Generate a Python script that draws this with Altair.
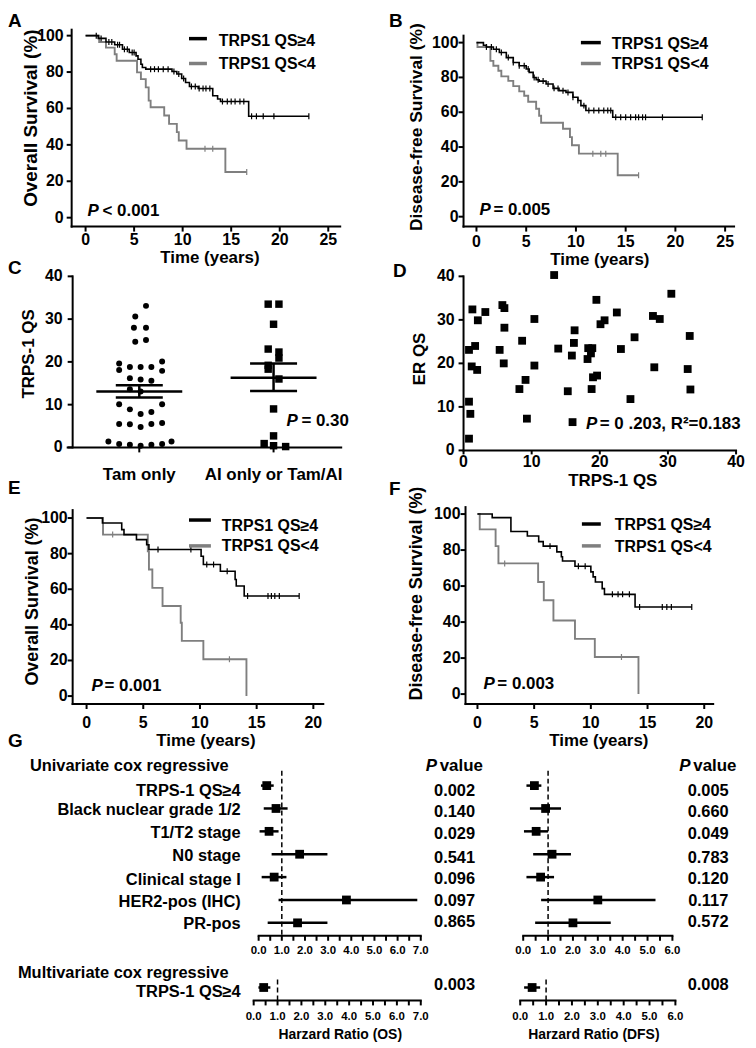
import altair as alt
import pandas as pd

FONT = "Liberation Sans"
W, H = 744, 1036
M = 8
BLACK = "#000000"
GREY = "#7f7f7f"

# ======================= DATA =======================
# A: overall survival (all patients)
a_hi_t = [0, 1.3, 2.1, 3.0, 3.8, 4.5, 5.2, 5.4, 5.7, 5.85, 6.2, 8.9, 9.4, 9.9, 10.3, 10.7, 11.6, 13.1, 13.6, 13.9, 16.8, 23.0]
a_hi_s = [100, 98.5, 96.5, 95.0, 92.5, 90.7, 88.9, 87.0, 84.3, 82.5, 81.6, 80.3, 78.9, 76.5, 74.3, 72.1, 71.0, 67.0, 65.2, 63.8, 55.7, 55.7]
a_hi_cens = [1.1, 1.6, 2.4, 2.7, 3.3, 3.5, 4.0, 4.3, 4.8, 5.0, 6.7, 7.1, 7.5, 8.0, 8.5, 9.1, 9.6, 10.1, 10.9,
             11.3, 11.7, 12.1, 12.4, 12.8, 14.1, 14.6, 15.0, 15.4, 15.9, 16.3, 17.1, 17.6, 18.3, 19.4, 23.0]
a_lo_t = [0, 1.4, 2.1, 3.0, 3.2, 5.3, 5.7, 6.2, 6.5, 6.7, 8.1, 8.6, 9.4, 9.6, 10.4, 14.4, 16.6]
a_lo_s = [100, 96.5, 93.4, 89.8, 86.2, 79.8, 76.1, 71.6, 64.3, 60.7, 56.1, 51.5, 47.0, 42.4, 37.9, 25.1, 25.1]
a_lo_cens = [12.3, 13.1, 16.6]

# B: disease-free survival (all patients)
b_hi_t = [0, 0.7, 1.0, 1.7, 2.3, 3.0, 3.7, 4.3, 5.0, 5.3, 5.7, 6.0, 6.3, 7.0, 7.7, 8.3, 9.0, 9.7, 10.2, 10.5, 11.0, 13.7, 22.7]
b_hi_s = [100, 98.5, 97.5, 96.2, 94.3, 91.4, 88.6, 86.7, 84.8, 82.9, 80.0, 78.7, 77.9, 76.2, 73.7, 72.4, 71.4, 68.6, 66.7, 63.8, 61.0, 57.1, 57.1]
b_hi_cens = [1.0, 1.5, 2.0, 2.5, 3.2, 3.7, 4.3, 4.8, 5.2, 5.8, 6.2, 6.7, 7.2, 7.8, 8.2, 8.7, 9.2, 9.7, 10.2, 10.8,
             11.3, 11.8, 12.3, 12.8, 13.2, 13.5, 14.0, 14.5, 15.0, 15.5, 16.0, 16.3, 16.7, 17.0, 18.7, 22.7]
b_lo_t = [0, 0.1, 1.4, 1.7, 2.2, 2.5, 3.2, 3.7, 4.3, 4.8, 5.2, 6.0, 6.3, 6.5, 8.7, 9.4, 9.6, 10.3, 14.2, 16.3]
b_lo_s = [100, 97.5, 89.5, 86.7, 83.8, 80.6, 78.0, 75.0, 72.0, 69.5, 66.0, 62.0, 58.0, 54.0, 50.5, 45.7, 41.0, 36.2, 23.8, 23.8]
b_lo_cens = [11.7, 12.5, 13.0, 16.3]

# C: TRPS-1 QS by endocrine therapy
tam_qs = [33.1, 30.6, 28.0, 28.0, 24.7, 25.1, 19.6, 20.1, 18.8, 18.8, 18.8, 18.1, 17.9, 16.2, 15.9, 15.6, 13.6, 13.1,
          10.1, 10.1, 8.9, 7.8, 8.3, 5.5, 5.4, 4.8, 5.5, 5.7, 1.4, 0.8, 0.6, 0.4, 0.6, 0.8, 1.4]
tam_jit = [0.05, -0.03, -0.04, 0.05, -0.03, 0.05, -0.15, 0.17, -0.07, 0.01, 0.09, -0.15, 0.17, -0.07, 0.01, 0.09, -0.07, 0.01,
           -0.15, 0.17, -0.07, 0.01, 0.09, -0.15, -0.07, 0.01, 0.09, 0.17, -0.23, -0.15, -0.07, 0.01, 0.09, 0.17, 0.24]
ai_qs = [33.5, 33.5, 28.8, 23.0, 22.3, 20.9, 19.2, 18.3, 16.0, 9.0, 2.7, 0.9, 0.4, 0.2]
ai_jit = [-0.04, 0.04, 0.0, -0.04, 0.04, 0.04, -0.04, -0.04, 0.04, 0.0, 0.0, -0.07, 0.0, 0.09]
c_groups = ["Tam only", "AI only or Tam/AI"]
c_mean = [13.1, 16.3]
c_sem_lo = [11.7, 13.2]
c_sem_hi = [14.55, 19.6]

# D: ER QS vs TRPS-1 QS
d_x = [13.3, 30.5, 1.3, 3.2, 5.7, 6.0, 2.1, 10.4, 6.0, 8.6, 0.8, 1.7, 5.3, 13.9, 16.3, 16.2, 15.9, 18.3, 18.9, 18.2,
       18.7, 19.5, 20.1, 20.7, 22.5, 23.1, 25.1, 27.8, 28.8, 33.2, 28.0, 32.9, 33.3, 24.5, 19.6, 19.0, 18.8, 15.3,
       10.4, 9.1, 8.2, 5.9, 1.2, 2.0, 0.8, 1.0, 9.3, 16.0, 0.8]
d_y = [40.3, 36.0, 32.4, 31.8, 33.4, 32.7, 29.9, 30.2, 28.2, 25.2, 23.1, 24.0, 23.1, 23.4, 27.6, 24.7, 21.8, 23.5, 23.5, 21.0,
       22.3, 34.6, 29.0, 29.9, 31.7, 23.3, 26.0, 30.9, 30.2, 26.3, 19.1, 18.7, 14.0, 11.8, 17.2, 16.8, 14.1, 13.6,
       19.5, 16.2, 14.1, 20.0, 19.3, 18.5, 11.2, 8.4, 7.3, 6.5, 2.7]

# E: overall survival (endocrine subset)
e_hi_t = [0, 1.4, 3.1, 3.3, 4.4, 5.3, 5.5, 10.1, 10.3, 11.8, 13.1, 13.2, 13.9, 18.75]
e_hi_s = [100, 97.2, 93.5, 90.7, 87.9, 85.0, 82.3, 78.5, 73.9, 70.1, 65.5, 61.8, 56.2, 56.2]
e_hi_cens = [6.3, 9.2, 10.6, 11.2, 12.4, 14.2, 16.0, 16.3, 16.6, 17.0, 18.75]
e_lo_t = [0, 1.45, 5.4, 5.5, 5.8, 6.7, 8.3, 8.4, 10.3, 14.1]
e_lo_s = [100, 90.7, 81.3, 71.1, 60.8, 50.6, 41.2, 31.0, 20.7, 0]
e_lo_cens = [2.3, 12.6]

# F: disease-free survival (endocrine subset)
f_hi_t = [0, 1.3, 2.95, 4.4, 5.4, 5.8, 7.0, 7.4, 7.5, 8.6, 10.0, 10.2, 10.4, 11.0, 11.2, 13.9, 18.9]
f_hi_s = [100, 98.0, 90.3, 87.8, 84.7, 82.2, 79.0, 76.3, 73.9, 71.0, 67.9, 65.1, 62.3, 58.6, 55.4, 48.4, 48.4]
f_hi_cens = [6.4, 8.9, 9.5, 11.9, 12.4, 12.8, 13.4, 14.3, 16.3, 16.7, 17.1, 18.9]
f_lo_t = [0, 0.2, 1.6, 1.85, 5.35, 5.85, 6.7, 8.6, 10.35, 14.2]
f_lo_s = [100, 91.5, 82.2, 72.6, 62.3, 52.1, 40.9, 30.7, 20.6, 0]
f_lo_cens = [2.4, 12.7]

# G: Cox regression
g_rows = ["TRPS-1 QS≥4", "Black nuclear grade 1/2", "T1/T2 stage", "N0 stage",
          "Clinical stage I", "HER2-pos (IHC)", "PR-pos"]
os_hr = [0.35, 0.75, 0.45, 1.77, 0.67, 3.79, 1.68]
os_lo = [0.10, 0.22, 0.04, 0.56, 0.13, 0.86, 0.39]
os_hi = [0.65, 1.25, 0.86, 2.97, 1.20, 6.85, 2.97]
os_p = ["0.002", "0.140", "0.029", "0.541", "0.096", "0.097", "0.865"]
dfs_hr = [0.45, 0.90, 0.52, 1.16, 0.70, 3.00, 2.00]
dfs_lo = [0.13, 0.27, 0.03, 0.40, 0.13, 0.72, 0.48]
dfs_hi = [0.73, 1.52, 1.00, 1.92, 1.24, 5.32, 3.52]
dfs_p = ["0.005", "0.660", "0.049", "0.783", "0.120", "0.117", "0.572"]
multi_label = "TRPS-1 QS≥4"
multi_os = [0.42, 0.20, 0.70]
multi_os_p = "0.003"
multi_dfs = [0.46, 0.15, 0.77]
multi_dfs_p = "0.008"

km_years_ab = [0, 5, 10, 15, 20, 25]
km_years_ef = [0, 5, 10, 15, 20]
km_pct = [0, 20, 40, 60, 80, 100]
qs_ticks = [0, 10, 20, 30, 40]
os_ticks = [i * 0.5 for i in range(15)]
dfs_ticks = [i * 0.5 for i in range(13)]

# ======================= HELPERS =======================
def lin(d0, p0, d1, p1, e0, e1):
    k = (p1 - p0) / (d1 - d0)
    return alt.Scale(domain=[d0 + (e0 - p0) / k, d0 + (e1 - p0) / k],
                     range=[e0 - M, e1 - M], nice=False, zero=False)


ONE = pd.DataFrame({"d": [0]})


def hline(x0, x1, y, w=2):
    return alt.Chart(ONE).mark_rule(color=BLACK, strokeWidth=w, strokeCap="square").encode(
        x=alt.value(x0 - M), x2=alt.value(x1 - M), y=alt.value(y - M))


def vline(x, y0, y1, w=2):
    return alt.Chart(ONE).mark_rule(color=BLACK, strokeWidth=w, strokeCap="square").encode(
        x=alt.value(x - M), y=alt.value(y0 - M), y2=alt.value(y1 - M))


def x_axis(xs, y, x0, x1, values, labels, size=16, pad=2, tick=5, show=None):
    df = pd.DataFrame({"v": values, "lab": labels})
    lab_df = df if show is None else df[[bool(s) for s in show]]
    return [
        hline(x0, x1, y),
        alt.Chart(df).mark_rule(color=BLACK, strokeWidth=2).encode(
            x=alt.X("v:Q", scale=xs, axis=None), y=alt.value(y - M), y2=alt.value(y - M + tick)),
        alt.Chart(lab_df).mark_text(align="center", baseline="top", font=FONT, fontWeight="bold",
                                    fontSize=size, color=BLACK).encode(
            x=alt.X("v:Q", scale=xs, axis=None), y=alt.value(y - M + tick + pad), text="lab:N"),
    ]


def y_axis(ys, x, y0, y1, values, labels, size=16, pad=2, tick=5):
    df = pd.DataFrame({"v": values, "lab": labels})
    return [
        vline(x, y0, y1),
        alt.Chart(df).mark_rule(color=BLACK, strokeWidth=2).encode(
            y=alt.Y("v:Q", scale=ys, axis=None), x=alt.value(x - M - tick), x2=alt.value(x - M)),
        alt.Chart(df).mark_text(align="right", baseline="middle", font=FONT, fontWeight="bold",
                                fontSize=size, color=BLACK).encode(
            y=alt.Y("v:Q", scale=ys, axis=None), x=alt.value(x - M - tick - pad), text="lab:N"),
    ]


def surv_at(ts, ss, t):
    v = ss[0]
    for ti, si in zip(ts, ss):
        if ti <= t:
            v = si
    return v


def km_panel(hi_t, hi_s, hi_c, lo_t, lo_s, lo_c, xs, ys, axes):
    hi = pd.DataFrame({"t": hi_t, "s": hi_s})
    lo = pd.DataFrame({"t": lo_t, "s": lo_s})
    hc = pd.DataFrame({"t": hi_c, "s": [surv_at(hi_t, hi_s, c) for c in hi_c]})
    lc = pd.DataFrame({"t": lo_c, "s": [surv_at(lo_t, lo_s, c) for c in lo_c]})
    enc = dict(x=alt.X("t:Q", scale=xs, axis=None), y=alt.Y("s:Q", scale=ys, axis=None))
    l_lo = alt.Chart(lo).mark_line(interpolate="step-after", color=GREY, strokeWidth=1.9).encode(**enc)
    l_hi = alt.Chart(hi).mark_line(interpolate="step-after", color=BLACK, strokeWidth=1.6).encode(**enc)
    t_lo = alt.Chart(lc).mark_tick(orient="vertical", size=6, thickness=1.2, color=GREY, opacity=1).encode(**enc)
    t_hi = alt.Chart(hc).mark_tick(orient="vertical", size=6, thickness=1.2, color=BLACK, opacity=1).encode(**enc)
    return alt.layer(l_lo, l_hi, t_lo, t_hi, *axes)


def fmt_int(vals):
    return [str(int(v)) for v in vals]


# ---------------- A, B, E, F ----------------
xsA, ysA = lin(0, 86, 25, 330, 72, 342), lin(0, 216, 100, 33, 225, 27)
pA = km_panel(a_hi_t, a_hi_s, a_hi_cens, a_lo_t, a_lo_s, a_lo_cens, xsA, ysA,
              x_axis(xsA, 225, 72, 342, km_years_ab, fmt_int(km_years_ab), pad=0)
              + y_axis(ysA, 72, 225, 27, km_pct, fmt_int(km_pct), pad=3))
xsB, ysB = lin(0, 479, 25, 729, 466, 738), lin(0, 215, 100, 40, 225, 33)
pB = km_panel(b_hi_t, b_hi_s, b_hi_cens, b_lo_t, b_lo_s, b_lo_cens, xsB, ysB,
              x_axis(xsB, 225, 466, 738, km_years_ab, fmt_int(km_years_ab), pad=2)
              + y_axis(ysB, 466, 225, 33, km_pct, fmt_int(km_pct), pad=0))
xsE, ysE = lin(0, 87, 20, 315, 73, 325), lin(0, 697, 100, 518, 705, 510)
pE = km_panel(e_hi_t, e_hi_s, e_hi_cens, e_lo_t, e_lo_s, e_lo_cens, xsE, ysE,
              x_axis(xsE, 705, 73, 325, km_years_ef, fmt_int(km_years_ef), pad=6)
              + y_axis(ysE, 73, 705, 510, km_pct, fmt_int(km_pct), pad=0))
xsF, ysF = lin(0, 480, 20, 708, 468, 717), lin(0, 695, 100, 514, 705, 507)
pF = km_panel(f_hi_t, f_hi_s, f_hi_cens, f_lo_t, f_lo_s, f_lo_cens, xsF, ysF,
              x_axis(xsF, 705, 468, 717, km_years_ef, fmt_int(km_years_ef), pad=6)
              + y_axis(ysF, 468, 705, 507, km_pct, fmt_int(km_pct), pad=0))

# ---------------- C ----------------
cxs = lin(1, 140, 2, 275, 68, 343)
cys = lin(0, 447, 40, 275, 447, 275)
tam_df = pd.DataFrame({"x": [1 + j for j in tam_jit], "y": tam_qs})
ai_df = pd.DataFrame({"x": [2 + j for j in ai_jit], "y": ai_qs})
centers = [1, 2]
mean_df = pd.DataFrame({"x1": [c - 0.32 for c in centers], "x2": [c + 0.32 for c in centers], "y": c_mean})
sem_df = pd.DataFrame({"x1": [c - 0.175 for c in centers] * 2, "x2": [c + 0.175 for c in centers] * 2,
                       "y": c_sem_lo + c_sem_hi})
vert_df = pd.DataFrame({"x": centers, "y1": c_sem_lo, "y2": c_sem_hi})
pC = alt.layer(
    alt.Chart(tam_df).mark_circle(size=36, color=BLACK, opacity=1).encode(
        x=alt.X("x:Q", scale=cxs, axis=None), y=alt.Y("y:Q", scale=cys, axis=None)),
    alt.Chart(ai_df).mark_square(size=56, color=BLACK, opacity=1).encode(
        x=alt.X("x:Q", scale=cxs, axis=None), y=alt.Y("y:Q", scale=cys, axis=None)),
    alt.Chart(mean_df).mark_rule(color=BLACK, strokeWidth=2.5).encode(
        x=alt.X("x1:Q", scale=cxs, axis=None), x2="x2:Q", y=alt.Y("y:Q", scale=cys, axis=None)),
    alt.Chart(sem_df).mark_rule(color=BLACK, strokeWidth=2.5).encode(
        x=alt.X("x1:Q", scale=cxs, axis=None), x2="x2:Q", y=alt.Y("y:Q", scale=cys, axis=None)),
    alt.Chart(vert_df).mark_rule(color=BLACK, strokeWidth=2.5).encode(
        x=alt.X("x:Q", scale=cxs, axis=None), y=alt.Y("y1:Q", scale=cys, axis=None), y2="y2:Q"),
    *x_axis(cxs, 447, 68, 343, centers, c_groups, size=17, pad=15),
    *y_axis(cys, 73, 447, 275, qs_ticks, fmt_int(qs_ticks), pad=5),
)

# ---------------- D ----------------
dxs = lin(0, 466, 40, 740, 466, 740)
dys = lin(0, 450, 40, 275, 450, 275)
pD = alt.layer(
    alt.Chart(pd.DataFrame({"x": d_x, "y": d_y})).mark_square(size=62, color=BLACK, opacity=1).encode(
        x=alt.X("x:Q", scale=dxs, axis=None), y=alt.Y("y:Q", scale=dys, axis=None)),
    *x_axis(dxs, 450, 466, 740, qs_ticks, fmt_int(qs_ticks), pad=0, tick=4),
    *y_axis(dys, 466, 450, 275, qs_ticks, fmt_int(qs_ticks), pad=4),
)

# ---------------- G ----------------
rows_scale = lin(0, 787, 6, 925, 787, 925)


def forest_axis(xs, y, x0, x1, ticks, pad):
    labs = ["%.1f" % v for v in ticks]
    show = [abs(v - round(v)) < 1e-9 for v in ticks]
    return x_axis(xs, y, x0, x1, ticks, labs, size=11.5, pad=pad, tick=5, show=show)


def forest_upper(hr, lo, hi, xs, ticks, x0, x1):
    df = pd.DataFrame({"row": list(range(len(hr))), "hr": hr, "lo": lo, "hi": hi})
    ref = pd.DataFrame({"ref": [1.0]})
    return alt.layer(
        alt.Chart(ref).mark_rule(color=BLACK, strokeWidth=1.5, strokeDash=[5, 3]).encode(
            x=alt.X("ref:Q", scale=xs, axis=None), y=alt.value(772 - M), y2=alt.value(938 - M)),
        alt.Chart(df).mark_rule(color=BLACK, strokeWidth=2.5).encode(
            x=alt.X("lo:Q", scale=xs, axis=None), x2="hi:Q", y=alt.Y("row:Q", scale=rows_scale, axis=None)),
        alt.Chart(df).mark_square(size=78, color=BLACK, opacity=1).encode(
            x=alt.X("hr:Q", scale=xs, axis=None), y=alt.Y("row:Q", scale=rows_scale, axis=None)),
        *forest_axis(xs, 938, x0, x1, ticks, 4),
    )


def forest_lower(vals, xs, ticks, x0, x1):
    df = pd.DataFrame({"hr": [vals[0]], "lo": [vals[1]], "hi": [vals[2]]})
    ref = pd.DataFrame({"ref": [1.0]})
    return alt.layer(
        alt.Chart(ref).mark_rule(color=BLACK, strokeWidth=1.5, strokeDash=[5, 3]).encode(
            x=alt.X("ref:Q", scale=xs, axis=None), y=alt.value(982 - M), y2=alt.value(1003 - M)),
        alt.Chart(df).mark_rule(color=BLACK, strokeWidth=2.5).encode(
            x=alt.X("lo:Q", scale=xs, axis=None), x2="hi:Q", y=alt.value(990 - M)),
        alt.Chart(df).mark_square(size=78, color=BLACK, opacity=1).encode(
            x=alt.X("hr:Q", scale=xs, axis=None), y=alt.value(990 - M)),
        *forest_axis(xs, 1003, x0, x1, ticks, 6),
    )


pGLU = forest_upper(os_hr, os_lo, os_hi, lin(0, 260, 7, 423, 260, 423), os_ticks, 260, 423)
pGRU = forest_upper(dfs_hr, dfs_lo, dfs_hi, lin(0, 526, 6, 676, 526, 676), dfs_ticks, 526, 676)
pGLL = forest_lower(multi_os, lin(0, 255, 7, 423, 255, 423), os_ticks, 255, 423)
pGRL = forest_lower(multi_dfs, lin(0, 523, 6, 679, 523, 679), dfs_ticks, 523, 679)

# ======================= ANNOTATIONS (layout) =======================
ann = []


def T(x, y, s, size=16, align="left", angle=0, italic=False):
    ann.append({"x": x - M, "y": y - M, "text": s, "size": size, "align": align,
                "angle": angle, "italic": italic})


for letter, lx, ly in [("A", 8, 18), ("B", 391, 18), ("C", 8, 267), ("D", 395, 270),
                       ("E", 8, 488), ("F", 391, 489), ("G", 8, 742)]:
    T(lx, ly, letter, 19)

leg_hi, leg_lo = "TRPS1 QS≥4", "TRPS1 QS<4"
for tx, y1, y2 in [(220, 38, 62), (615, 41, 62), (223, 526, 546), (618, 525, 547)]:
    T(tx, y1, leg_hi, 16)
    T(tx, y2, leg_lo, 16)

T(31, 116, "Overall  Survival (%)", 19, "center", 270)
T(419, 125, "Disease-free  Survival (%)", 17.5, "center", 270)
T(29, 353, "TRPS-1 QS", 17, "center", 270)
T(422, 358, "ER  QS", 17, "center", 270)
T(33, 602, "Overall  Survival (%)", 18, "center", 270)
T(419, 594, "Disease-free  Survival (%)", 18, "center", 270)
T(211, 257, "Time (years)", 17, "center")
T(603, 259, "Time (years)", 17, "center")
T(616, 481, "TRPS-1 QS", 17, "center")
T(207, 742, "Time (years)", 17, "center")
T(602, 742, "Time (years)", 17, "center")

for px_, rx, yy, rest in [(88, 103, 209, "<  0.001"), (482, 496, 208, "= 0.005"), (288, 303, 420, "= 0.30"),
                          (589, 603, 423, "= 0 .203, R²=0.183"), (92, 105, 687, "=  0.001"),
                          (486, 500, 685, "=  0.003")]:
    T(px_, yy, "P", 17, italic=True)
    T(rx, yy, rest, 17)

T(30, 767, "Univariate cox regressive", 16.5)
T(18, 975, "Multivariate cox regressive", 16.5)
row_text_y = [792, 812, 835, 858, 882, 904, 926]
pval_y = [792, 814, 836, 860, 881, 903, 924]
for lab, yy in zip(g_rows, row_text_y):
    T(242, yy, lab, 16.5, "right")
T(242, 995, multi_label, 16.5, "right")
T(428, 767, "P", 17, italic=True)
T(442, 767, "value", 17)
T(683, 767, "P", 17, italic=True)
T(697, 767, "value", 17)
for a, b, yy in zip(os_p, dfs_p, pval_y):
    T(457, yy, a, 16.5, "center")
    T(712, yy, b, 16.5, "center")
T(457, 988, multi_os_p, 16.5, "center")
T(712, 988, multi_dfs_p, 16.5, "center")
T(342, 1038, "Harzard Ratio (OS)", 14, "center")
T(597, 1038, "Harzard Ratio (DFS)", 14, "center")

ann_df = pd.DataFrame(ann)
text_layers = []
for (align, italic), g in ann_df.groupby(["align", "italic"]):
    text_layers.append(
        alt.Chart(g.reset_index(drop=True)).mark_text(
            align=align, baseline="middle", font=FONT, fontWeight="bold",
            fontStyle="italic" if italic else "normal", color=BLACK).encode(
            x=alt.X("x:Q", scale=None, axis=None), y=alt.Y("y:Q", scale=None, axis=None),
            text="text:N",
            size=alt.Size("size:Q", scale=None, legend=None),
            angle=alt.Angle("angle:Q", scale=None, legend=None)))

leg_lines = pd.DataFrame([
    {"x1": 190, "x2": 208, "y": 36, "c": BLACK}, {"x1": 190, "x2": 208, "y": 61, "c": GREY},
    {"x1": 584, "x2": 604, "y": 40, "c": BLACK}, {"x1": 584, "x2": 604, "y": 61, "c": GREY},
    {"x1": 190, "x2": 212, "y": 520, "c": BLACK}, {"x1": 190, "x2": 212, "y": 546, "c": GREY},
    {"x1": 585, "x2": 604, "y": 524, "c": BLACK}, {"x1": 585, "x2": 604, "y": 546, "c": GREY},
])
leg_lines[["x1", "x2", "y"]] = leg_lines[["x1", "x2", "y"]] - M
leg_layer = alt.Chart(leg_lines).mark_rule(strokeWidth=3.5).encode(
    x=alt.X("x1:Q", scale=None, axis=None), x2="x2:Q",
    y=alt.Y("y:Q", scale=None, axis=None),
    color=alt.Color("c:N", scale=None, legend=None))

chart = alt.layer(
    pA, pB, pC, pD, pE, pF, pGLU, pGRU, pGLL, pGRL, leg_layer, *text_layers
).resolve_scale(x="independent", y="independent").properties(
    width=W, height=H, padding=0, autosize=alt.AutoSizeParams(type="none")
).configure_view(stroke=None)

chart.save("out.html", embed_options={"renderer": "svg", "actions": False})
